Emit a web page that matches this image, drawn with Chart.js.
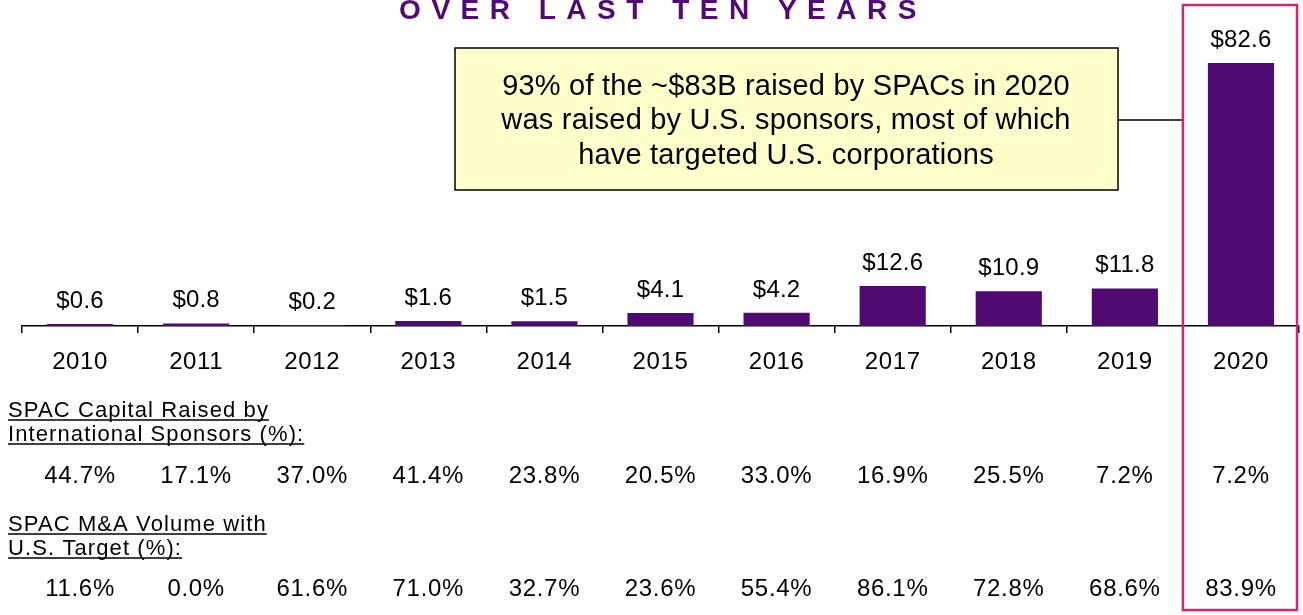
<!DOCTYPE html>
<html>
<head>
<meta charset="utf-8">
<script src="https://cdn.jsdelivr.net/npm/chart.js@4/dist/chart.umd.min.js"></script>
<style>
  html, body { margin: 0; padding: 0; background: #fff; overflow: hidden; }
  canvas { display: block; }
</style>
</head>
<body>
<canvas id="spacChart" width="1303" height="615"></canvas>
<script>
// 연도 (카테고리)
const years = ['2010', '2011', '2012', '2013', '2014', '2015', '2016', '2017', '2018', '2019', '2020'];
// SPAC 조달 자본 ($B)
const capitalRaised = [0.6, 0.8, 0.2, 1.6, 1.5, 4.1, 4.2, 12.6, 10.9, 11.8, 82.6];
// 해외 스폰서 조달 비중 (%)
const intlSponsorShare = [44.7, 17.1, 37.0, 41.4, 23.8, 20.5, 33.0, 16.9, 25.5, 7.2, 7.2];
// 미국 타깃 M&A 비중 (%)
const usTargetShare = [11.6, 0.0, 61.6, 71.0, 32.7, 23.6, 55.4, 86.1, 72.8, 68.6, 83.9];

const titleText = 'OVER LAST TEN YEARS';
const calloutLines = [
  '93% of the ~$83B raised by SPACs in 2020',
  'was raised by U.S. sponsors, most of which',
  'have targeted U.S. corporations'
];
const row1Label = ['SPAC Capital Raised by', 'International Sponsors (%):'];
const row2Label = ['SPAC M&A Volume with', 'U.S. Target (%):'];

const PURPLE = '#510A72';
const PINK = '#D6237A';
const FONT = '"Liberation Sans", Arial, Helvetica, sans-serif';

// 밑줄 텍스트
function underlinedText(ctx, text, x, y) {
  ctx.fillText(text, x, y);
  const w = ctx.measureText(text).width;
  ctx.beginPath();
  ctx.moveTo(x, y + 3);
  ctx.lineTo(x + w, y + 3);
  ctx.stroke();
}

// 주석, 값 라벨, 표 그리기
const annotations = {
  id: 'annotations',
  beforeDraw(chart) {
    // 눈금 라벨 자간
    chart.ctx.letterSpacing = '0.6px';
  },
  afterDatasetsDraw(chart) {
    const ctx = chart.ctx;
    const xs = chart.scales.x;
    const meta = chart.getDatasetMeta(0);
    ctx.save();

    // 막대 위 값 라벨
    ctx.font = '24px ' + FONT;
    ctx.letterSpacing = '0.2px';
    ctx.fillStyle = '#000';
    ctx.textAlign = 'center';
    ctx.textBaseline = 'alphabetic';
    meta.data.forEach((bar, i) => {
      ctx.fillText('$' + capitalRaised[i].toFixed(1), bar.x, bar.y - 16);
    });

    // 제목
    ctx.font = 'bold 28px ' + FONT;
    ctx.fillStyle = PURPLE;
    ctx.letterSpacing = '10.5px';
    ctx.fillText(titleText, 658 + 5, 18.5);

    // 설명 박스
    ctx.fillStyle = '#FFFFCC';
    ctx.fillRect(455, 48, 663, 142);
    ctx.strokeStyle = '#000';
    ctx.lineWidth = 1.5;
    ctx.strokeRect(455, 48, 663, 142);
    ctx.fillStyle = '#000';
    ctx.font = '29px ' + FONT;
    ctx.letterSpacing = '0.2px';
    calloutLines.forEach((line, i) => ctx.fillText(line, 786, 95 + i * 34.3));

    // 2020 강조 박스
    const catW = (xs.right - xs.left) / years.length;
    const hx = xs.getPixelForValue(years.length - 1) - catW / 2;
    ctx.beginPath();
    ctx.moveTo(1118, 120);
    ctx.lineTo(hx, 120);
    ctx.stroke();
    ctx.strokeStyle = PINK;
    ctx.lineWidth = 2.5;
    ctx.strokeRect(hx, 5, catW - 2, 605);

    // 표
    ctx.fillStyle = '#000';
    ctx.strokeStyle = '#000';
    ctx.lineWidth = 1.3;
    ctx.font = '22px ' + FONT;
    ctx.letterSpacing = '1.1px';
    ctx.textAlign = 'left';
    underlinedText(ctx, row1Label[0], 8, 417);
    underlinedText(ctx, row1Label[1], 8, 441);
    underlinedText(ctx, row2Label[0], 8, 531);
    underlinedText(ctx, row2Label[1], 8, 555);

    ctx.font = '24px ' + FONT;
    ctx.letterSpacing = '0.7px';
    ctx.textAlign = 'center';
    years.forEach((y, i) => {
      const px = xs.getPixelForValue(i);
      ctx.fillText(intlSponsorShare[i].toFixed(1) + '%', px, 482.5);
      ctx.fillText(usTargetShare[i].toFixed(1) + '%', px, 595.5);
    });

    ctx.restore();
  }
};

const chart = new Chart(document.getElementById('spacChart'), {
  type: 'bar',
  data: {
    labels: years,
    datasets: [{
      data: capitalRaised,
      backgroundColor: PURPLE,
      barPercentage: 0.57,
      categoryPercentage: 1.0
    }]
  },
  options: {
    responsive: false,
    animation: false,
    devicePixelRatio: 1,
    layout: { padding: { top: 63, left: 22, right: 4, bottom: 0 } },
    plugins: {
      legend: { display: false },
      tooltip: { enabled: false }
    },
    scales: {
      x: {
        border: { display: true, color: '#000', width: 1.5 },
        grid: { drawOnChartArea: false, drawTicks: true, tickLength: 7, color: '#000', lineWidth: 1.5 },
        ticks: { color: '#000', font: { family: FONT, size: 24 }, padding: 15, maxRotation: 0 },
        afterFit: (scale) => { scale.height = 615 - 326; }
      },
      y: {
        display: false,
        min: 0,
        max: 82.6
      }
    }
  },
  plugins: [annotations]
});
</script>
</body>
</html>
